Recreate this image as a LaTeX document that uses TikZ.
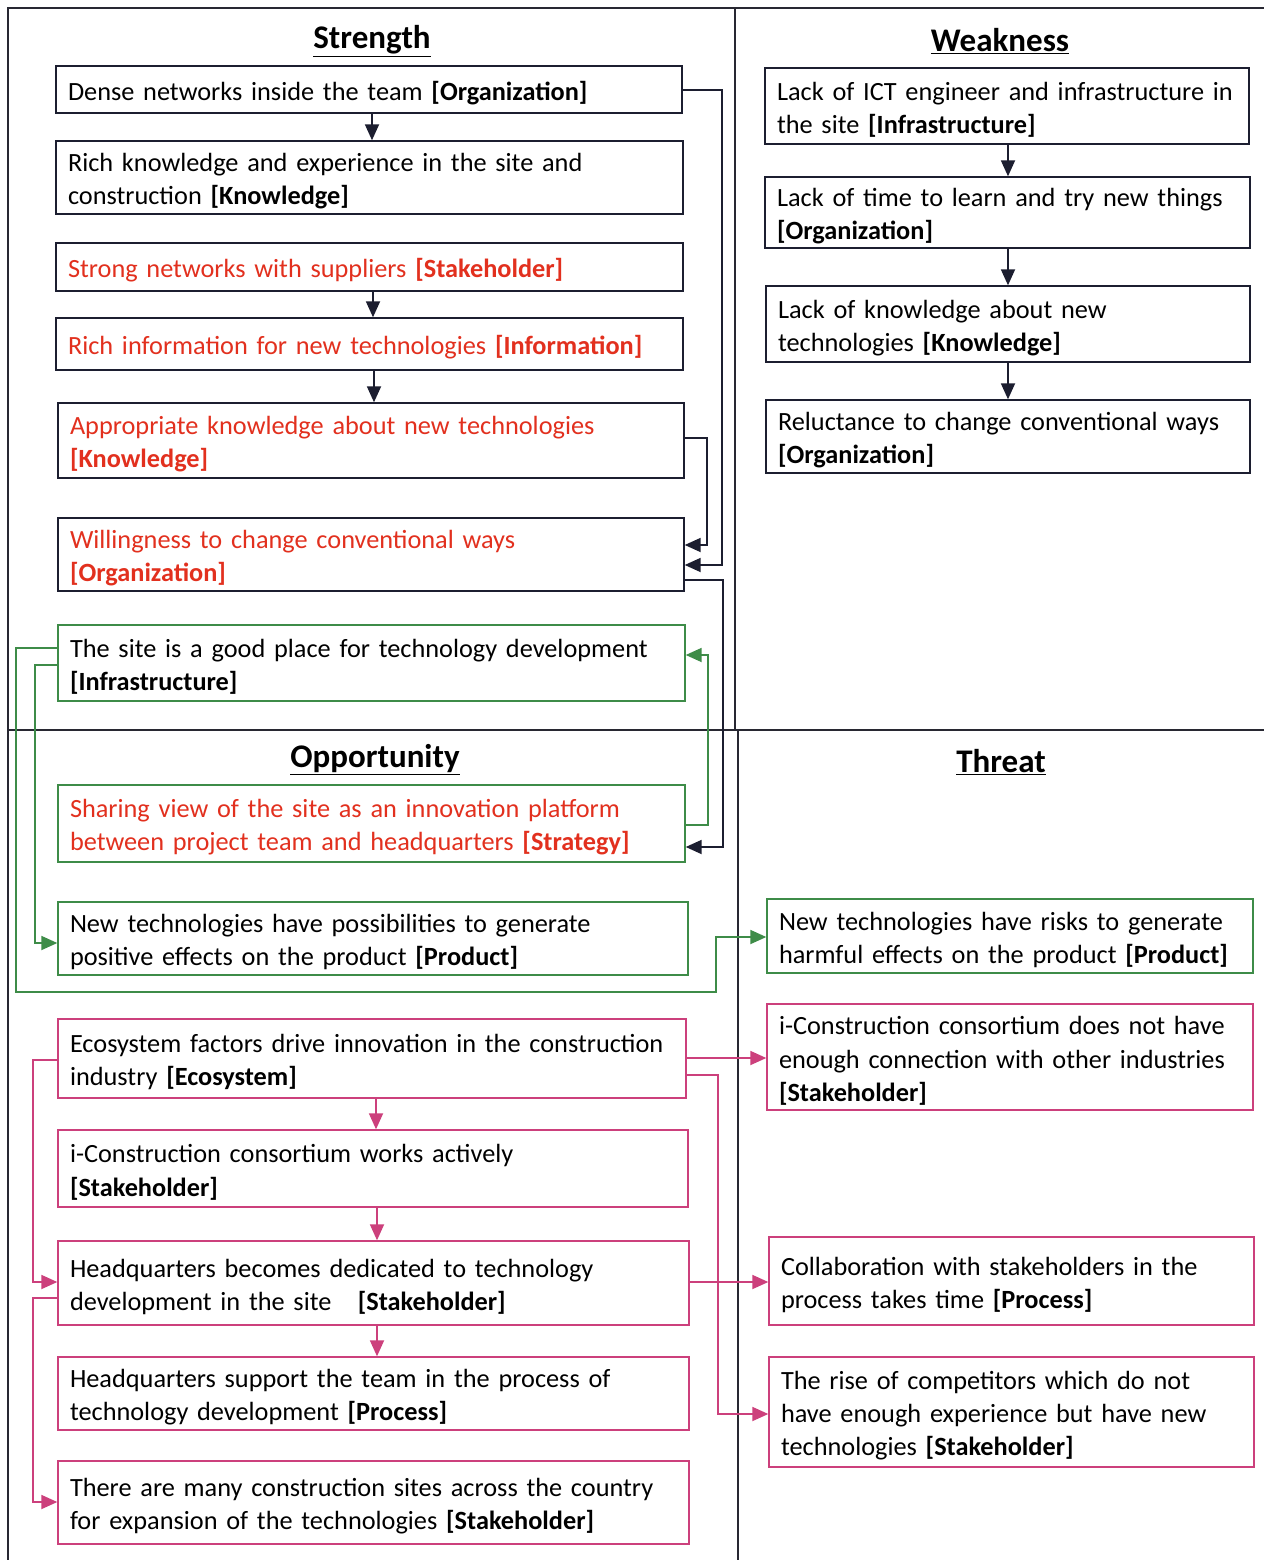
\documentclass[tikz,border=0pt]{standalone}
\usepackage{fontspec}
\setmainfont{Carlito}
\usetikzlibrary{arrows.meta}
\definecolor{redtxt}{RGB}{226,48,30}
\definecolor{grn}{RGB}{62,140,72}
\definecolor{pnk}{RGB}{204,64,124}
\definecolor{ink}{RGB}{28,30,48}
\definecolor{frame}{RGB}{40,40,50}
\newcommand{\ol}[1]{\mbox{#1}}
\begin{document}
\begin{tikzpicture}[x=1pt,y=-1pt,
  base/.style={rectangle,inner xsep=12pt,inner ysep=2pt,align=left,
    font=\fontsize{26.3}{33.2}\selectfont,line width=1.4pt,
    execute at begin node={\rule{0pt}{26pt}}},
  bkbox/.style={base,draw=ink},
  gnbox/.style={base,draw=grn},
  pkbox/.style={base,draw=pnk},
  redt/.style={text=redtxt},
  title/.style={font=\fontsize{33}{36}\selectfont\bfseries},
  tip/.style={-{Triangle[length=16pt,width=14pt]}},
  bkarr/.style={tip,draw=ink,line width=1.8pt},
  gnarr/.style={tip,draw=grn,line width=1.8pt},
  pkarr/.style={tip,draw=pnk,line width=1.8pt},
  divider/.style={draw=frame,line width=1.3pt}]

\useasboundingbox[fill=white] (0,0) rectangle (1264,1560);

% quadrant frame
\draw[divider] (8,1560) -- (8,8) -- (1264,8);
\draw[divider] (735,8) -- (735,730);
\draw[divider] (738,730) -- (738,1560);
\draw[divider] (8,730) -- (1264,730);

% headings
\node[title] (tS) at (372,41) {\underline{Strength}};
\node[title] (tW) at (1000,41) {\underline{Weakness}};
\node[title] (tO) at (375,760) {\underline{Opportunity}};
\node[title] (tT) at (1001,762) {\underline{Threat}};

% Strength
\node[bkbox,minimum width=626pt,minimum height=47pt,text width=602pt] (s1) at (369,89.5)
  {\ol{Dense networks inside the team \textbf{[Organization]}}};
\node[bkbox,minimum width=627pt,minimum height=73pt,text width=603pt] (s2) at (369.5,177.5)
  {\ol{Rich knowledge and experience in the site and}\\\ol{construction \textbf{[Knowledge]}}};
\node[bkbox,redt,minimum width=627pt,minimum height=48pt,text width=603pt] (s3) at (369.5,267)
  {\ol{Strong networks with suppliers \textbf{[Stakeholder]}}};
\node[bkbox,redt,minimum width=627pt,minimum height=52pt,text width=603pt] (s4) at (369.5,344)
  {\ol{Rich information for new technologies \textbf{[Information]}}};
\node[bkbox,redt,minimum width=626pt,minimum height=75pt,text width=602pt] (s5) at (371,440.5)
  {\ol{Appropriate knowledge about new technologies}\\\ol{\textbf{[Knowledge]}}};
\node[bkbox,redt,minimum width=626pt,minimum height=73pt,text width=602pt] (s6) at (371,554.5)
  {\ol{Willingness to change conventional ways}\\\ol{\textbf{[Organization]}}};
\node[gnbox,minimum width=627pt,minimum height=76pt,text width=603pt] (s7) at (371.5,663)
  {\ol{The site is a good place for technology development}\\\ol{\textbf{[Infrastructure]}}};

% Weakness
\node[bkbox,minimum width=484pt,minimum height=76pt,text width=460pt] (w1) at (1007,106)
  {\ol{Lack of ICT engineer and infrastructure in}\\\ol{the site \textbf{[Infrastructure]}}};
\node[bkbox,minimum width=485pt,minimum height=71pt,text width=461pt] (w2) at (1007.5,212.5)
  {\ol{Lack of time to learn and try new things}\\\ol{\textbf{[Organization]}}};
\node[bkbox,minimum width=484pt,minimum height=76pt,text width=460pt] (w3) at (1008,324)
  {\ol{Lack of knowledge about new}\\\ol{technologies \textbf{[Knowledge]}}};
\node[bkbox,minimum width=484pt,minimum height=73pt,text width=460pt] (w4) at (1008,436.5)
  {\ol{Reluctance to change conventional ways}\\\ol{\textbf{[Organization]}}};

% Opportunity
\node[gnbox,redt,minimum width=627pt,minimum height=77pt,text width=603pt] (o1) at (371.5,823.5)
  {\ol{Sharing view of the site as an innovation platform}\\\ol{between project team and headquarters \textbf{[Strategy]}}};
\node[gnbox,minimum width=630pt,minimum height=73pt,text width=606pt] (o2) at (373,938.5)
  {\ol{New technologies have possibilities to generate}\\\ol{positive effects on the product \textbf{[Product]}}};
\node[pkbox,minimum width=628pt,minimum height=79pt,text width=604pt] (o3) at (372,1058.5)
  {\ol{Ecosystem factors drive innovation in the construction}\\\ol{industry \textbf{[Ecosystem]}}};
\node[pkbox,minimum width=630pt,minimum height=77pt,text width=606pt] (o4) at (373,1168.5)
  {\ol{i-Construction consortium works actively}\\\ol{\textbf{[Stakeholder]}}};
\node[pkbox,minimum width=631pt,minimum height=84pt,text width=607pt] (o5) at (373.5,1283)
  {\ol{Headquarters becomes dedicated to technology}\\\ol{development in the site \ \ \textbf{[Stakeholder]}}};
\node[pkbox,minimum width=631pt,minimum height=73pt,text width=607pt] (o6) at (373.5,1393.5)
  {\ol{Headquarters support the team in the process of}\\\ol{technology development \textbf{[Process]}}};
\node[pkbox,minimum width=631pt,minimum height=83pt,text width=607pt] (o7) at (373.5,1502.5)
  {\ol{There are many construction sites across the country}\\\ol{for expansion of the technologies \textbf{[Stakeholder]}}};

% Threat
\node[gnbox,minimum width=486pt,minimum height=74pt,text width=462pt] (t1) at (1010,936)
  {\ol{New technologies have risks to generate}\\\ol{harmful effects on the product \textbf{[Product]}}};
\node[pkbox,minimum width=486pt,minimum height=106pt,text width=462pt] (t2) at (1010,1057)
  {\ol{i-Construction consortium does not have}\\\ol{enough connection with other industries}\\\ol{\textbf{[Stakeholder]}}};
\node[pkbox,minimum width=485pt,minimum height=88pt,text width=461pt] (t3) at (1011.5,1281)
  {\ol{Collaboration with stakeholders in the}\\\ol{process takes time \textbf{[Process]}}};
\node[pkbox,minimum width=485pt,minimum height=110pt,text width=461pt] (t4) at (1011.5,1412)
  {\ol{The rise of competitors which do not}\\\ol{have enough experience but have new}\\\ol{technologies \textbf{[Stakeholder]}}};

% connector waypoints
\coordinate (kS1) at (722,0);
\coordinate (kS5) at (707,0);
\coordinate (kS6) at (723,0);
\coordinate (kO1) at (708,0);
\coordinate (kG1) at (16,0);
\coordinate (kG1b) at (716,992);
\coordinate (kG2) at (35,0);
\coordinate (kP1) at (33,0);
\coordinate (kP2) at (718,0);

% Strength / Weakness chains
\draw[bkarr] (s1.south -| 372,0) -- (s2.north -| 372,0);
\draw[bkarr] (s3.south -| 373,0) -- (s4.north -| 373,0);
\draw[bkarr] (s4.south -| 374,0) -- (s5.north -| 374,0);
\draw[bkarr] (w1.south -| 1008,0) -- (w2.north -| 1008,0);
\draw[bkarr] (w2.south -| 1008,0) -- (w3.north -| 1008,0);
\draw[bkarr] (w3.south -| 1008,0) -- (w4.north -| 1008,0);

% links into and out of the willingness box
\draw[bkarr] (s1.east |- 0,90) -- (kS1 |- 0,90) -- (kS1 |- 0,565) -- (s6.east |- 0,565);
\draw[bkarr] (s5.east |- 0,438) -- (kS5 |- 0,438) -- (kS5 |- 0,545) -- (s6.east |- 0,545);
\draw[bkarr] (s6.east |- 0,580) -- (kS6 |- 0,580) -- (kS6 |- 0,847) -- (o1.east |- 0,847);

% green links
\draw[gnarr] (o1.east |- 0,825) -- (kO1 |- 0,825) -- (kO1 |- 0,655) -- (s7.east |- 0,655);
\draw[gnarr] (s7.west |- 0,648) -- (kG1 |- 0,648) -- (kG1 |- kG1b) -- (kG1b) -- (kG1b |- 0,937) -- (t1.west |- 0,937);
\draw[gnarr] (s7.west |- 0,665) -- (kG2 |- 0,665) -- (kG2 |- 0,943) -- (o2.west |- 0,943);

% pink links
\draw[pkarr] (o3.south -| 376,0) -- (o4.north -| 376,0);
\draw[pkarr] (o4.south -| 377,0) -- (o5.north -| 377,0);
\draw[pkarr] (o5.south -| 377,0) -- (o6.north -| 377,0);
\draw[pkarr] (o3.west |- 0,1060) -- (kP1 |- 0,1060) -- (kP1 |- 0,1282) -- (o5.west |- 0,1282);
\draw[pkarr] (o5.west |- 0,1298) -- (kP1 |- 0,1298) -- (kP1 |- 0,1502) -- (o7.west |- 0,1502);
\draw[pkarr] (o3.east |- 0,1058) -- (t2.west |- 0,1058);
\draw[pkarr] (o3.east |- 0,1075) -- (kP2 |- 0,1075) -- (kP2 |- 0,1414) -- (t4.west |- 0,1414);
\draw[pkarr] (o5.east |- 0,1282) -- (t3.west |- 0,1282);
\end{tikzpicture}
\end{document}
